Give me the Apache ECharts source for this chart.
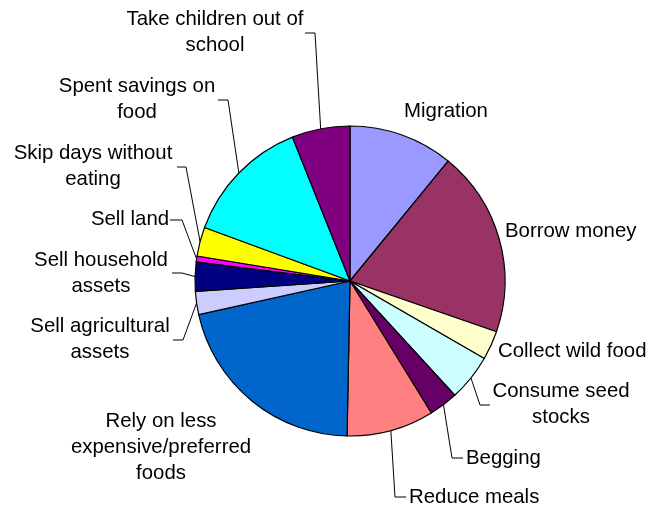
<!DOCTYPE html>
<html><head><meta charset="utf-8">
<script src="https://cdn.jsdelivr.net/npm/echarts@6/dist/echarts.min.js"></script>
<style>html,body{margin:0;padding:0;background:#fff}#c{width:649px;height:510px}</style>
</head><body><div id="c"></div>
<script>
const categories = ["Migration","Borrow money","Collect wild food","Consume seed stocks","Begging","Reduce meals","Rely on less expensive/preferred foods","Sell agricultural assets","Sell household assets","Sell land","Skip days without eating","Spent savings on food","Take children out of school"];
const values = [18,32,5,8,5,15,35,4,5,1,5,22,10];
const labelText = ["Migration","Borrow money","Collect wild food","Consume seed\nstocks","Begging","Reduce meals","Rely on less\nexpensive/preferred\nfoods","Sell agricultural\nassets","Sell household\nassets","Sell land","Skip days without\neating","Spent savings on\nfood","Take children out of\nschool"];
const colors = ["#9999FF","#993366","#FFFFCC","#CCFFFF","#660066","#FF8080","#0066CC","#CCCCFF","#000080","#FF00FF","#FFFF00","#00FFFF","#800080"];
// label layout: [x, y, align, elbowX1, elbowX2, elbowY] (null elbow = no leader line)
const labelPos = [
  [446,111,'center',null],
  [505,231,'left',null],
  [498,351,'left',null],
  [561,404,'center',480,490,405],
  [466,458,'left',452,463,458],
  [409,497,'left',395,406,497],
  [161,447,'center',null],
  [100,339,'center',183,173,340],
  [101,273,'center',182,172,273],
  [130,219,'center',182,170,220],
  [93,166,'center',186,177,167],
  [137,99,'center',228,218,100],
  [215,32,'center',315,305,33]
];
const chart = echarts.init(document.getElementById('c'), null, {renderer:'canvas'});
chart.setOption({
  animation:false,
  series:[{
    type:'pie',
    center:[350,281],
    radius:155,
    startAngle:90,
    clockwise:true,
    avoidLabelOverlap:false,
    itemStyle:{borderColor:'#000',borderWidth:1.2},
    label:{
      show:true,
      position:'outside',
      color:'#000',
      fontFamily:'Liberation Sans, Arial, sans-serif',
      fontSize:20.4,
      lineHeight:26,
      formatter:p=>labelText[p.dataIndex]
    },
    labelLine:{show:true,lineStyle:{color:'#000',width:1}},
    data:categories.map((c,i)=>({
      name:c,value:values[i],
      itemStyle:{color:colors[i]},
      labelLine:{show:labelPos[i][3]!==null}
    })),
    labelLayout:function(p){
      const L = labelPos[p.dataIndex];
      const res = {x:L[0],y:L[1],align:L[2],verticalAlign:'middle',hideOverlap:false};
      if (L[3]!==null && p.labelLinePoints) {
        const s = p.labelLinePoints[0];
        res.labelLinePoints = [[s[0],s[1]],[L[3],L[5]],[L[4],L[5]]];
      }
      return res;
    }
  }]
});
</script></body></html>
